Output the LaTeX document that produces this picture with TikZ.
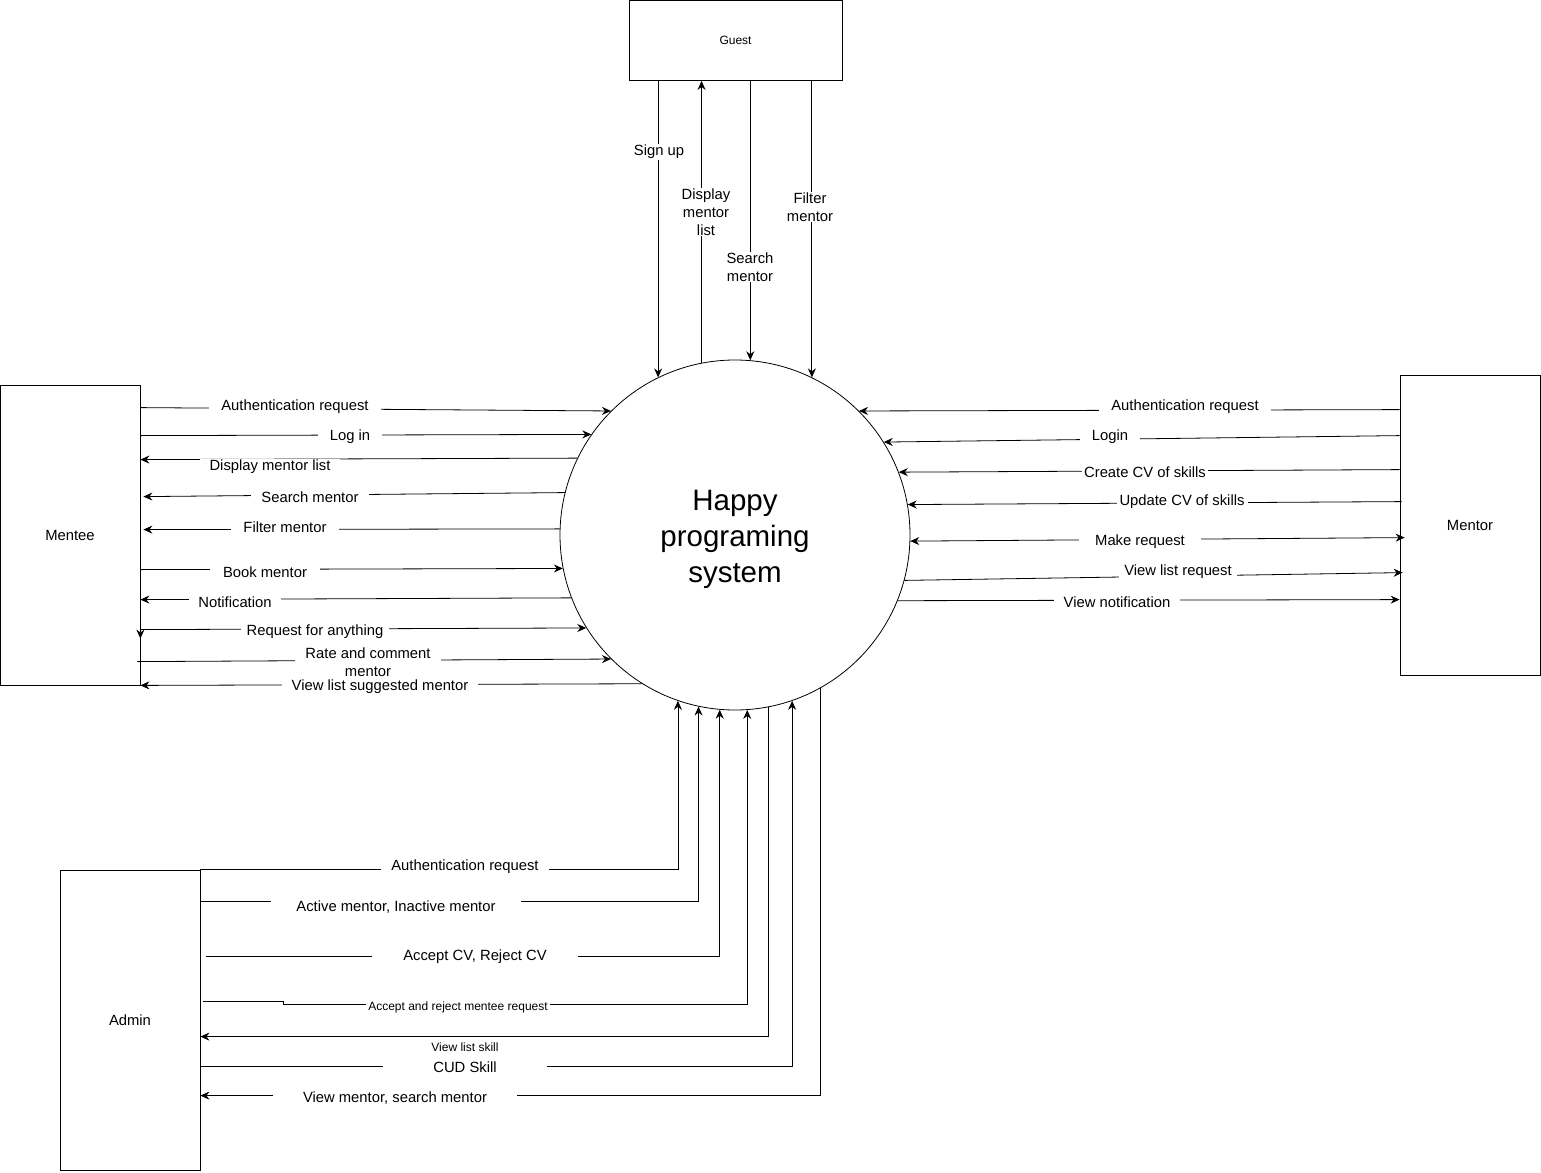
\documentclass[tikz,border=0pt]{standalone}
\usepackage{fontspec}
\setmainfont{Liberation Sans}
\usetikzlibrary{arrows.meta}
\begin{document}
\begin{tikzpicture}[x=1pt,y=-1pt,
  ent/.style={draw, line width=0.8pt, minimum width=140pt, minimum height=300pt,
    inner sep=0pt, font=\fontsize{14.8}{17}\selectfont},
  tip/.tip={Stealth[length=9pt,width=8pt,inset=3pt]},
  flow/.style={line width=0.8pt, -tip},
  both/.style={line width=0.8pt, tip-tip},
  lbl/.style={fill=white, inner xsep=10pt, inner ysep=1pt, align=center, yshift=-2pt,
    font=\fontsize{14.8}{18}\selectfont},
  slbl/.style={lbl, font=\fontsize{12}{14}\selectfont}]
\useasboundingbox (0,0) rectangle (1541,1172);

% external entities and the process
\node[ent, minimum width=213pt, minimum height=80pt, font=\fontsize{12}{14}\selectfont] (guest) at (735.5,40.5) {Guest};
\node[ent] (mentee) at (70,535) {Mentee};
\node[ent] (mentor) at (1470,525) {Mentor};
\node[ent] (admin) at (130,1020) {Admin};
\node[circle, draw, line width=0.8pt, minimum size=350pt, inner sep=0pt] (hps) at (735,535) {};
\node[align=center, font=\fontsize{29.5}{36}\selectfont] (title) at (735,539) {Happy\\programing\\system};

% Guest flows
\draw[flow] (guest.south -| hps.116.1) -- (hps.116.1)
  node[lbl, inner xsep=3pt] (g1) at (659,150) {Sign up};
\draw[flow] (hps.101.2) -- (guest.south -| hps.101.2)
  node[lbl, inner xsep=3pt] (g2) at (706,210) {Display\\mentor\\list};
\draw[flow] (guest.south -| hps.85.1) -- (hps.85.1)
  node[lbl, inner xsep=3pt] (g3) at (750,265) {Search\\mentor};
\draw[flow] (guest.south -| hps.64.2) -- (hps.64.2)
  node[lbl, inner xsep=3pt] (g4) at (810,205) {Filter\\mentor};

% Mentee flows
\draw[flow] ([yshift=-23pt]mentee.north east) -- (hps.135)
  node[lbl, inner xsep=12pt] (e1) at (295,405) {Authentication request};
\draw[flow] ([yshift=-51pt]mentee.north east) -- (hps.145.3)
  node[lbl, inner xsep=12pt] (e2) at (350,435) {Log in};
\draw[flow] (hps.154.2) -- ([yshift=-75pt]mentee.north east)
  node[lbl] (e3) at (270,465) {Display mentor list};
\draw[flow] (hps.166) -- ([xshift=3pt,yshift=-112pt]mentee.north east)
  node[lbl] (e4) at (310,495) {Search mentor};
\draw[flow] (hps.178.4) -- ([xshift=3pt,yshift=-145pt]mentee.north east)
  node[lbl, inner xsep=12pt] (e5) at (285,525) {Filter mentor};
\draw[flow] ([yshift=-185pt]mentee.north east) -- (hps.191.6)
  node[lbl, inner xsep=13pt] (e6) at (265,570) {Book mentor};
\draw[flow] (hps.201.4) -- ([yshift=-215pt]mentee.north east)
  node[lbl, inner xsep=9pt] (e7) at (235,600) {Notification};
\draw[flow] ([yshift=-245pt]mentee.north east) -- (hps.212.8)
  node[lbl, inner xsep=6pt] (e8) at (315,630) {Request for anything};
\draw[flow] ([yshift=-245pt]mentee.north east) -- ([yshift=-254pt]mentee.north east);
\draw[flow] ([xshift=-3pt,yshift=-277pt]mentee.north east) -- (hps.225)
  node[lbl, inner ysep=0pt] (e9) at (368,660) {Rate and comment\\mentor};
\draw[flow] (hps.238.5) -- (mentee.south east)
  node[lbl] (e10) at (380,685) {View list suggested mentor};

% Mentor flows
\draw[flow] ([yshift=-35pt]mentor.north west) -- (hps.45)
  node[lbl, inner xsep=12pt] (r1) at (1185,405) {Authentication request};
\draw[flow] ([yshift=-61pt]mentor.north west) -- (hps.32.9)
  node[lbl, inner xsep=12pt] (r2) at (1110,435) {Login};
\draw[flow] ([yshift=-95pt]mentor.north west) -- (hps.21.2)
  node[lbl, inner xsep=2pt] (r3) at (1145,470) {Create CV of skills};
\draw[flow] ([xshift=2pt,yshift=-127pt]mentor.north west) -- (hps.10.3)
  node[lbl, inner xsep=3pt] (r4) at (1182,500) {Update CV of skills};
\draw[both] (hps.358.4) -- ([xshift=5pt,yshift=-163pt]mentor.north west)
  node[lbl, inner xsep=16pt] (r5) at (1140,540) {Make request};
\draw[flow] (hps.345.9) -- ([xshift=3pt,yshift=-198pt]mentor.north west)
  node[lbl, inner xsep=5pt] (r6) at (1178,570) {View list request};
\draw[flow] (hps.338.3) -- ([yshift=-225pt]mentor.north west)
  node[lbl] (r7) at (1117,600) {View notification};

% Admin flows
\draw[flow] (admin.north east) -| (hps.251.7)
  node[lbl] (a1) at (465,865) {Authentication request};
\draw[flow] ([yshift=-32pt]admin.north east) -| (hps.258.5)
  node[lbl, inner xsep=25pt] (a2) at (396,905) {Active mentor, Inactive mentor};
\draw[flow] ([xshift=6pt,yshift=-87pt]admin.north east) -| (hps.265.1)
  node[lbl, inner xsep=31pt] (a3) at (475,955) {Accept CV, Reject CV};
\draw[flow] ([xshift=3pt,yshift=-132pt]admin.north east) -- ++(80,0) -- ++(0,3) -| (hps.274.6)
  node[slbl, inner xsep=2pt] (a4) at (458,1005) {Accept and reject mentee request};
\draw[flow] (hps.281.5) |- ([yshift=-167pt]admin.north east)
  node[slbl, inner xsep=11pt, inner ysep=4pt] (a5) at (465,1045) {View list skill};
\draw[flow] ([yshift=-197pt]admin.north east) -| (hps.289.7)
  node[lbl, inner xsep=50pt] (a6) at (465,1065) {CUD Skill};
\draw[flow] (hps.299.1) |- ([yshift=-226pt]admin.north east)
  node[lbl, inner xsep=30pt] (a7) at (395,1096) {View mentor, search mentor};
\end{tikzpicture}
\end{document}
